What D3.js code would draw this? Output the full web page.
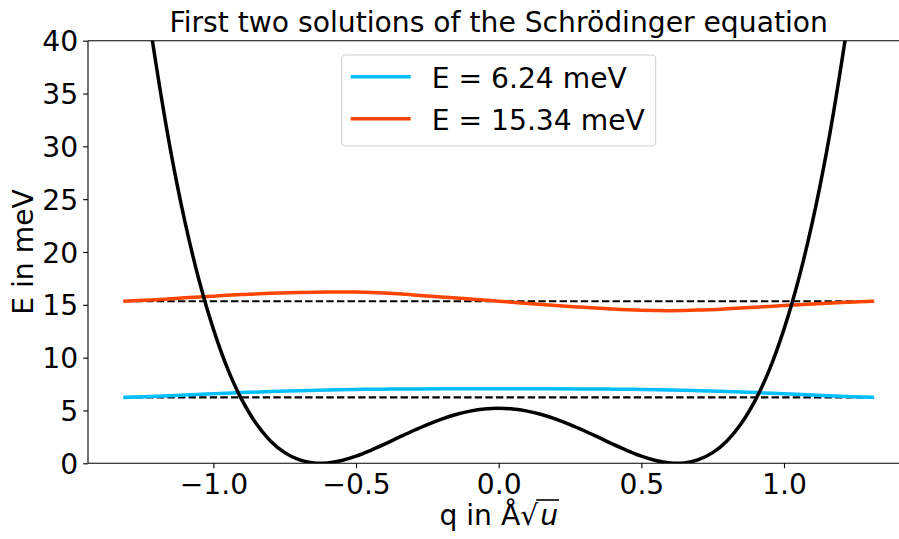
<!DOCTYPE html>
<html>
<head>
<meta charset="utf-8">
<script src="https://cdn.jsdelivr.net/npm/d3@7"></script>
<style>
  html, body { margin: 0; padding: 0; background: #fff; }
  svg { display: block; font-family: "DejaVu Sans", sans-serif; }
</style>
</head>
<body>
<svg id="chart" width="899" height="539"></svg>
<script>
// ---- data ----
const title = "First two solutions of the Schrödinger equation";
const xTicks = [-1.0, -0.5, 0.0, 0.5, 1.0];
const yTicks = [0, 5, 10, 15, 20, 25, 30, 35, 40];

const potQ = [-1.30,-1.25,-1.20,-1.15,-1.10,-1.05,-1.00,-0.95,-0.90,-0.85,-0.80,-0.75,-0.70,-0.65,-0.60,-0.55,-0.50,-0.45,-0.40,-0.35,-0.30,-0.25,-0.20,-0.15,-0.10,-0.05,0.00,
              0.05,0.10,0.15,0.20,0.25,0.30,0.35,0.40,0.45,0.50,0.55,0.60,0.65,0.70,0.75,0.80,0.85,0.90,0.95,1.00,1.05,1.10,1.15,1.20,1.25,1.30];
const potV = [57.6,46.8,37.6,29.6,22.9,17.3,12.7,8.94,6.00,3.76,2.12,1.01,0.34,0.03,0.03,0.26,0.67,1.21,1.81,2.45,3.08,3.67,4.19,4.62,4.94,5.14,5.20,
              5.14,4.94,4.62,4.19,3.67,3.08,2.45,1.81,1.21,0.67,0.26,0.03,0.03,0.34,1.01,2.12,3.76,6.00,8.94,12.7,17.3,22.9,29.6,37.6,46.8,57.6];

const waveQ = [-1.31,-1.2,-1.1,-1.0,-0.9,-0.8,-0.7,-0.6,-0.5,-0.4,-0.3,-0.2,-0.1,0.0,0.1,0.2,0.3,0.4,0.5,0.6,0.7,0.8,0.9,1.0,1.1,1.2,1.31];
const wave1 = [6.24,6.34,6.46,6.58,6.69,6.79,6.87,6.94,6.99,7.02,7.04,7.05,7.06,7.06,7.06,7.05,7.04,7.02,6.99,6.94,6.87,6.79,6.69,6.58,6.46,6.34,6.24];
const wave2 = [15.34,15.49,15.66,15.82,15.97,16.09,16.17,16.22,16.21,16.12,15.94,15.75,15.55,15.34,15.13,14.93,14.76,14.60,14.49,14.45,14.50,14.62,14.77,14.93,15.08,15.21,15.34];

const energies = [6.24, 15.34];
const labels = ["E = 6.24 meV", "E = 15.34 meV"];
const colors = ["#00bfff", "#ff4500"];

// ---- layout ----
const svg = d3.select("#chart");
const pL = 88, pR = 909.4, pT = 40.7, pB = 463.3;
const x = d3.scaleLinear().domain([-1.4395, 1.4395]).range([pL, pR]);
const y = d3.scaleLinear().domain([0, 40]).range([pB, pT]);
const fs = 28.2;

svg.append("defs").append("clipPath").attr("id", "clip")
  .append("rect").attr("x", pL).attr("y", pT).attr("width", pR - pL).attr("height", pB - pT);

const plot = svg.append("g").attr("clip-path", "url(#clip)");
const line = d3.line().x(d => x(d[0])).y(d => y(d[1])).curve(d3.curveCatmullRom);

// dashed energy levels
energies.forEach(E => {
  plot.append("line")
    .attr("x1", x(waveQ[0])).attr("x2", x(waveQ[waveQ.length - 1]))
    .attr("y1", y(E)).attr("y2", y(E))
    .attr("stroke", "#000").attr("stroke-width", 2.2).attr("stroke-dasharray", "7.4,3.2");
});

// wavefunctions
[wave1, wave2].forEach((w, i) => {
  plot.append("path").datum(waveQ.map((q, j) => [q, w[j]]))
    .attr("d", line).attr("fill", "none")
    .attr("stroke", colors[i]).attr("stroke-width", 3.5).attr("stroke-linecap", "square");
});

// potential
plot.append("path").datum(potQ.map((q, j) => [q, potV[j]]))
  .attr("d", line).attr("fill", "none")
  .attr("stroke", "#000").attr("stroke-width", 3.5);

// axes
const xAxis = svg.append("g").attr("transform", `translate(0,${pB})`)
  .call(d3.axisBottom(x).tickValues(xTicks).tickSize(4.9).tickPadding(4.9)
    .tickFormat(d => d3.format(".1f")(d).replace("-", "\u2212")));
const yAxis = svg.append("g").attr("transform", `translate(${pL},0)`)
  .call(d3.axisLeft(y).tickValues(yTicks).tickSize(4.9).tickPadding(4.9));
[xAxis, yAxis].forEach(a => {
  a.selectAll("text").attr("font-size", fs).attr("font-family", "DejaVu Sans").attr("fill", "#000");
  a.selectAll("line").attr("stroke", "#000").attr("stroke-width", 1.1);
  a.select(".domain").remove();
});
xAxis.selectAll("text").attr("dy", null).attr("y", 30.7);
yAxis.selectAll("text").attr("dy", "0.36em");

// spines
const sp = svg.append("g").attr("stroke", "#000").attr("stroke-width", 1.1).attr("fill", "none");
sp.append("line").attr("x1", pL).attr("x2", pL).attr("y1", pT).attr("y2", pB);
sp.append("line").attr("x1", pR).attr("x2", pR).attr("y1", pT).attr("y2", pB);
sp.append("line").attr("x1", pL).attr("x2", pR).attr("y1", pT).attr("y2", pT);
sp.append("line").attr("x1", pL).attr("x2", pR).attr("y1", pB).attr("y2", pB);

// title
svg.append("text").attr("x", (pL + pR) / 2).attr("y", 32.4)
  .attr("text-anchor", "middle").attr("font-size", fs).text(title);

// y label
svg.append("text").attr("transform", `translate(33,${(pT + pB) / 2}) rotate(-90)`)
  .attr("text-anchor", "middle").attr("font-size", fs).text("E in meV");

// x label: q in Å√u (with overline over italic u)
const xl = svg.append("g");
const t1 = xl.append("text").attr("font-size", fs).attr("y", 525).text("q in Å\u221A");
const t2 = xl.append("text").attr("font-size", fs).attr("y", 525).attr("font-style", "italic").text("u");
const w1 = t1.node().getComputedTextLength();
const w2 = t2.node().getComputedTextLength();
const x0 = (pL + pR) / 2 - (w1 + w2 + 2) / 2;
t1.attr("x", x0);
t2.attr("x", x0 + w1 + 2);
xl.append("line").attr("x1", x0 + w1 - 2).attr("x2", x0 + w1 + w2 + 3)
  .attr("y1", 500).attr("y2", 500).attr("stroke", "#000").attr("stroke-width", 1.6);

// legend
const lg = svg.append("g");
lg.append("rect").attr("x", 341.7).attr("y", 55).attr("width", 314).attr("height", 91)
  .attr("rx", 4).attr("fill", "#fff").attr("fill-opacity", 0.8)
  .attr("stroke", "#d0d0d0").attr("stroke-width", 1.1);
labels.forEach((lab, i) => {
  const cy = 76.7 + i * 42;
  lg.append("line").attr("x1", 350.7).attr("x2", 410.7).attr("y1", cy).attr("y2", cy)
    .attr("stroke", colors[i]).attr("stroke-width", 3.5);
  lg.append("text").attr("x", 431.7).attr("y", cy + 11.3).attr("font-size", fs).text(lab);
});
</script>
</body>
</html>
